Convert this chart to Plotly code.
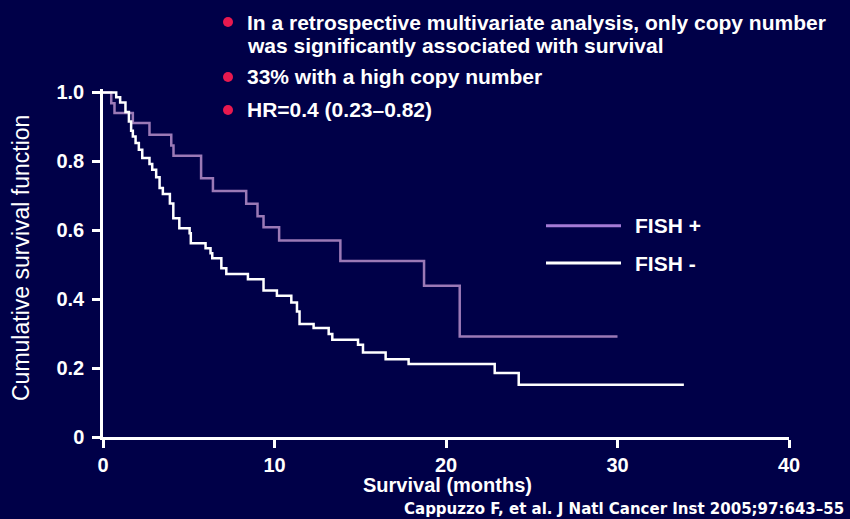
import plotly.graph_objects as go

# ---- data ----
fish_pos_time = [0, 0.48, 0.67, 1.74, 2.71, 3.98, 4.11, 5.72, 6.41, 8.35, 9.01, 9.36, 10.27, 13.84, 18.72, 20.80, 30.0]
fish_pos_surv = [1.0, 0.969, 0.940, 0.911, 0.877, 0.846, 0.816, 0.751, 0.714, 0.677, 0.641, 0.609, 0.570, 0.511, 0.439, 0.292, 0.292]

fish_neg_time = [0, 0.77, 1.00, 1.31, 1.51, 1.64, 1.74, 1.90, 2.09, 2.29, 2.71, 2.87, 3.10, 3.30, 3.49,
                 3.90, 4.10, 4.45, 5.05, 5.12, 5.98, 6.27, 6.37, 6.90, 7.19, 8.45, 9.36, 10.14, 10.98,
                 11.31, 11.46, 12.28, 13.16, 13.37, 14.87, 15.16, 16.48, 17.82, 22.84, 24.24, 33.87]
fish_neg_surv = [1.0, 0.986, 0.971, 0.943, 0.916, 0.889, 0.872, 0.853, 0.834, 0.810, 0.792, 0.776, 0.754, 0.723, 0.705,
                 0.678, 0.635, 0.606, 0.591, 0.562, 0.548, 0.533, 0.519, 0.490, 0.473, 0.458, 0.425, 0.410, 0.390,
                 0.364, 0.328, 0.316, 0.299, 0.282, 0.268, 0.245, 0.226, 0.212, 0.186, 0.152, 0.152]

x_ticks = [0, 10, 20, 30, 40]
y_ticks = [0, 0.2, 0.4, 0.6, 0.8, 1.0]
y_tick_labels = ["0", "0.2", "0.4", "0.6", "0.8", "1.0"]

bullets = [
    "In a retrospective multivariate analysis, only copy number",
    "was significantly associated with survival",
    "33% with a high copy number",
    "HR=0.4 (0.23\u20130.82)",
]
bullet_has_dot = [True, False, True, True]
legend_names = ["FISH +", "FISH -"]
citation = "Cappuzzo F, et al. J Natl Cancer Inst 2005;97:643\u201355"

# ---- style ----
BG = "#000048"
PURPLE = "#9b79b6"
PURPLE_LEG = "#a57bd6"
WHITE = "#ffffff"
RED = "#e8194f"
FONT = "Liberation Sans, Arial, sans-serif"

W, H = 850, 519
L, R, T, B = 103, 61, 89, 82
PW, PH = W - L - R, H - T - B


def px(xp):
    return (xp - L) / PW


def py(yp):
    return (H - B - yp) / PH


fig = go.Figure()
fig.add_trace(go.Scatter(x=fish_pos_time, y=fish_pos_surv, mode="lines", line_shape="hv",
                         line=dict(color=PURPLE, width=2.5), name=legend_names[0], showlegend=False))
fig.add_trace(go.Scatter(x=fish_neg_time, y=fish_neg_surv, mode="lines", line_shape="hv",
                         line=dict(color=WHITE, width=2.5), name=legend_names[1], showlegend=False))

annotations = []
shapes = []

# bullet text
bullet_y = [22, 46, 77, 110]
for txt, dot, yy in zip(bullets, bullet_has_dot, bullet_y):
    annotations.append(dict(x=px(245), y=py(yy), xref="paper", yref="paper", text=txt, showarrow=False,
                            xanchor="left", yanchor="middle",
                            font=dict(family=FONT, size=21, color=WHITE, weight="bold")))
    if dot:
        shapes.append(dict(type="circle", xref="paper", yref="paper", xsizemode="pixel", ysizemode="pixel",
                           xanchor=px(228), yanchor=py(yy), x0=-5, x1=5, y0=-5, y1=5,
                           fillcolor=RED, line=dict(width=0)))

# legend
leg_y = [225.7, 263]
leg_col = [PURPLE_LEG, WHITE]
for name, yy, col in zip(legend_names, leg_y, leg_col):
    shapes.append(dict(type="line", xref="paper", yref="paper", x0=px(546), x1=px(621), y0=py(yy), y1=py(yy),
                       line=dict(color=col, width=3)))
    annotations.append(dict(x=px(633), y=py(yy), xref="paper", yref="paper", text=name, showarrow=False,
                            xanchor="left", yanchor="middle",
                            font=dict(family=FONT, size=21, color=WHITE, weight="bold")))

# axis titles
annotations.append(dict(x=px(447), y=py(485), xref="paper", yref="paper", text="Survival (months)",
                        showarrow=False, xanchor="center", yanchor="middle",
                        font=dict(family=FONT, size=20, color=WHITE, weight="bold")))
annotations.append(dict(x=px(21), y=py(258), xref="paper", yref="paper", text="Cumulative survival function",
                        showarrow=False, xanchor="center", yanchor="middle", textangle=-90,
                        font=dict(family=FONT, size=23, color=WHITE)))
annotations.append(dict(x=px(846), y=py(509), xref="paper", yref="paper", text=citation,
                        showarrow=False, xanchor="right", yanchor="middle",
                        font=dict(family="DejaVu Sans, sans-serif", size=15, color=WHITE, weight="bold")))

axis_common = dict(showline=True, linecolor=WHITE, linewidth=2.5, ticks="outside", ticklen=8,
                   tickwidth=2.5, tickcolor=WHITE, showgrid=False, zeroline=False,
                   tickfont=dict(family=FONT, size=20, color=WHITE, weight="bold"))

fig.update_layout(
    width=W, height=H,
    margin=dict(l=L, r=R, t=T, b=B),
    paper_bgcolor=BG, plot_bgcolor=BG,
    xaxis=dict(range=[0, 40], tickvals=x_ticks, **axis_common),
    yaxis=dict(range=[0, 1.01], tickvals=y_ticks, ticktext=y_tick_labels, ticklabelstandoff=4, **axis_common),
    annotations=annotations,
    shapes=shapes,
    showlegend=False,
)

fig.write_html("out.html", config={"displayModeBar": False},
               post_script="document.body.style.margin='0px';document.body.style.background='" + BG + "';")
